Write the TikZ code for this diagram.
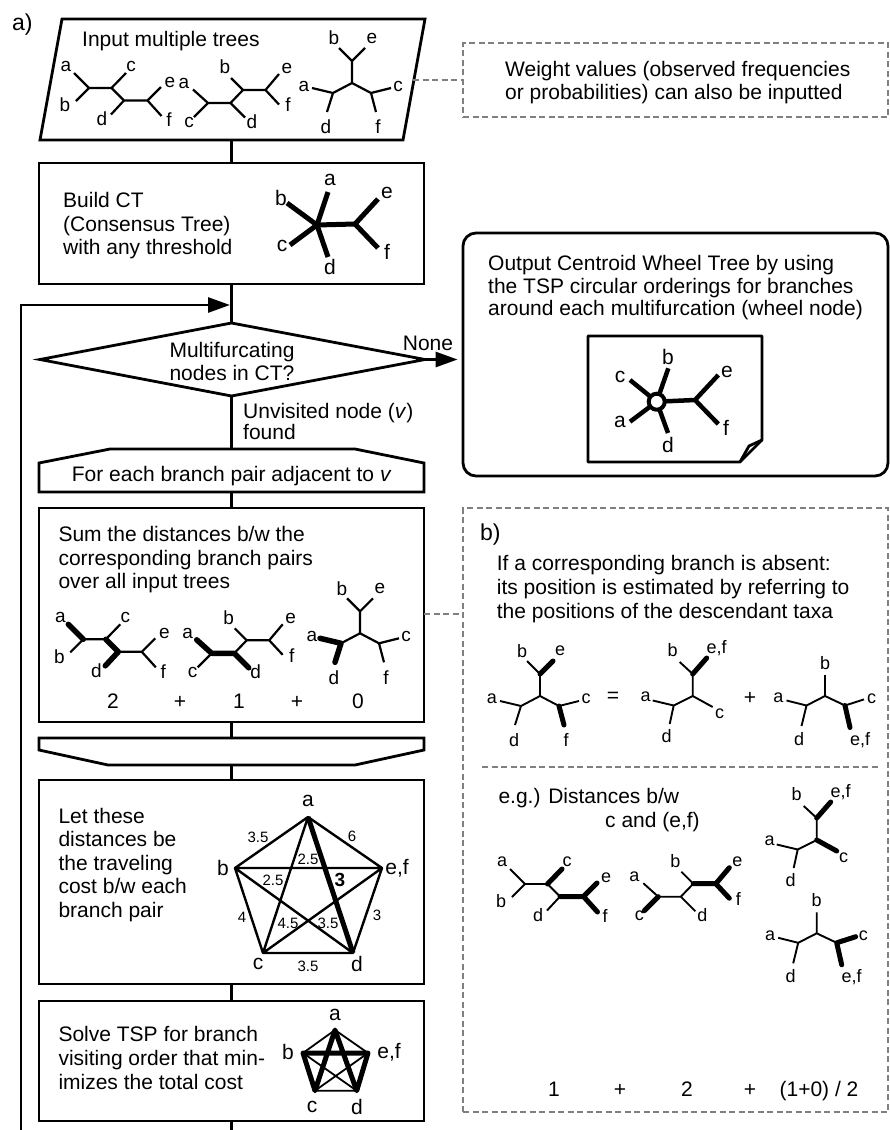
\documentclass[tikz,border=0pt]{standalone}
\usepackage{fontspec}
\setmainfont{Liberation Sans}
\usetikzlibrary{arrows.meta}
\definecolor{dgray}{RGB}{128,128,128}
\tikzset{
  flow/.style={line width=2.8pt},
  box/.style={draw, line width=2.8pt, rectangle, inner sep=0pt},
  dbox/.style={draw=dgray, line width=2pt, dash pattern=on 6pt off 3.5pt, rectangle, inner sep=0pt},
  dline/.style={draw=dgray, line width=2pt, dash pattern=on 6pt off 3.5pt},
  arr/.style={-{Triangle[length=22pt,width=15pt]}},
  txt/.style={inner sep=0pt, font=\fontsize{21}{24}\selectfont},
  bigl/.style={inner sep=0pt, font=\fontsize{23}{25}\selectfont},
  elab/.style={inner sep=0pt, font=\fontsize{15}{16}\selectfont},
  tlab/.style={inner sep=0pt, font=\fontsize{19}{20}\selectfont},
  tline/.style={line width=2.2pt},
  thk/.style={line width=5.5pt, line cap=round, line join=round},
  pics/treeA/.style={code={
    \coordinate (-n1) at (0,0); \coordinate (-a) at (-15,-15); \coordinate (-b) at (-13,13);
    \coordinate (-n2) at (22.5,0); \coordinate (-c) at (37,-15); \coordinate (-n3) at (35,12.5);
    \coordinate (-d) at (22,26.5); \coordinate (-n4) at (58.5,12.5); \coordinate (-e) at (72,-1); \coordinate (-f) at (72.5,28);
    \draw[tline] (-a) -- (-n1) -- (-b) (-n1) -- (-n2) -- (-c) (-n2) -- (-n3) -- (-d) (-n3) -- (-n4) -- (-e) (-n4) -- (-f);
    \node[tlab] (-la) at (-23,-22) {a}; \node[tlab] (-lb) at (-24,17) {b}; \node[tlab] (-lc) at (42,-22) {c};
    \node[tlab] (-ld) at (13,31) {d}; \node[tlab] (-le) at (81,-6) {e}; \node[tlab] (-lf) at (80,32) {f};
  }},
  pics/treeB/.style={code={
    \coordinate (-n1) at (0,0); \coordinate (-a) at (-15,-13.5); \coordinate (-c) at (-14,14);
    \coordinate (-n2) at (22.5,0); \coordinate (-d) at (37,14.5); \coordinate (-n3) at (35,-13);
    \coordinate (-b) at (23,-25); \coordinate (-n4) at (57.5,-13); \coordinate (-e) at (71,-29); \coordinate (-f) at (71,1.5);
    \draw[tline] (-a) -- (-n1) -- (-c) (-n1) -- (-n2) -- (-d) (-n2) -- (-n3) -- (-b) (-n3) -- (-n4) -- (-e) (-n4) -- (-f);
    \node[tlab] (-la) at (-24,-20) {a}; \node[tlab] (-lc) at (-19,19) {c}; \node[tlab] (-ld) at (44,18.5) {d};
    \node[tlab] (-lb) at (17,-36) {b}; \node[tlab] (-le) at (79,-35) {e}; \node[tlab] (-lf) at (80,2) {f};
  }},
  pics/treeC/.style={code={
    \coordinate (-o) at (0,0); \coordinate (-u) at (0,-22); \coordinate (-b) at (-13,-35); \coordinate (-e) at (13,-35);
    \coordinate (-l) at (-19,10); \coordinate (-a) at (-40,5); \coordinate (-d) at (-25,29);
    \coordinate (-r) at (19,10); \coordinate (-c) at (39,5); \coordinate (-f) at (24,29);
    \draw[tline] (-b) -- (-u) -- (-e) (-u) -- (-o) (-a) -- (-l) -- (-d) (-l) -- (-o) -- (-r) (-c) -- (-r) -- (-f);
    \node[tlab] (-lb) at (-18,-45) {b}; \node[tlab] (-le) at (20,-45) {e}; \node[tlab] (-la) at (-48,3) {a};
    \node[tlab] (-ld) at (-26,44) {d}; \node[tlab] (-lc) at (46,3) {c}; \node[tlab] (-lf) at (26,44) {f};
  }},
  pics/treeD/.style={code={
    \coordinate (-o) at (0,0); \coordinate (-u) at (0,-22); \coordinate (-b) at (-13,-34); \coordinate (-ef) at (14,-38);
    \coordinate (-l) at (-19,9.5); \coordinate (-a) at (-40,4.5); \coordinate (-d) at (-23,28); \coordinate (-c) at (20,11);
    \draw[tline] (-b) -- (-u) -- (-ef) (-u) -- (-o) (-a) -- (-l) -- (-d) (-l) -- (-o) -- (-c);
    \node[tlab] (-lb) at (-20,-46) {b}; \node[tlab] (-lef) at (24,-48) {e,f}; \node[tlab] (-la) at (-47,1) {a};
    \node[tlab] (-ld) at (-26,40) {d}; \node[tlab] (-lc) at (27,18) {c};
  }},
  pics/treeE/.style={code={
    \coordinate (-o) at (0,0); \coordinate (-b) at (0,-21);
    \coordinate (-l) at (-18.5,9.5); \coordinate (-a) at (-38.5,4.5); \coordinate (-d) at (-23.5,30);
    \coordinate (-r) at (20,9.5); \coordinate (-c) at (39,3.4); \coordinate (-ef) at (25,31.5);
    \draw[tline] (-b) -- (-o) (-a) -- (-l) -- (-d) (-l) -- (-o) -- (-r) (-c) -- (-r) -- (-ef);
    \node[tlab] (-lb) at (0,-33) {b}; \node[tlab] (-la) at (-46.7,2) {a}; \node[tlab] (-ld) at (-26,43) {d};
    \node[tlab] (-lc) at (46.7,2.5) {c}; \node[tlab] (-lef) at (35,44) {e,f};
  }},
}
\begin{document}
\begin{tikzpicture}[x=1pt,y=-1pt]
\useasboundingbox (0,0) rectangle (890,1130);

% ---------- left flowchart shapes ----------
\coordinate (pTL) at (62,19); \coordinate (pTR) at (425,19);
\coordinate (pBR) at (403,140); \coordinate (pBL) at (40,140);
\coordinate (pB) at (231.5,140); \coordinate (pR) at (413,80);
\draw[flow] (pTL) -- (pTR) -- (pBR) -- (pBL) -- cycle;

\node[box, minimum width=385, minimum height=121] (ct) at (231.5,223.5) {};

\coordinate (dT) at (231.5,323); \coordinate (dR) at (425,359.5);
\coordinate (dB) at (231.5,396); \coordinate (dL) at (40,359.5);
\draw[flow] (dT) -- (dR) -- (dB) -- (dL) -- cycle;

\coordinate (fT) at (231.5,449); \coordinate (fB) at (231.5,492);
\draw[flow] (110,449) -- (355,449) -- (424,463) -- (424,492) -- (39,492) -- (39,463) -- cycle;

\node[box, minimum width=385, minimum height=214] (sum) at (231.5,615) {};

\coordinate (lT) at (231.5,738); \coordinate (lB) at (231.5,765);
\draw[flow] (39,738) -- (424,738) -- (424,750) -- (355,765) -- (108,765) -- (39,750) -- cycle;

\node[box, minimum width=385, minimum height=204] (cost) at (231.5,882) {};
\node[box, minimum width=385, minimum height=120] (tsp) at (231.5,1061) {};

% ---------- right boxes ----------
\node[dbox, minimum width=425, minimum height=74] (wt) at (675.5,80) {};
\node[box, rounded corners=13pt, minimum width=425, minimum height=243] (out) at (675.5,354.5) {};
\node[dbox, minimum width=425, minimum height=604] (bb) at (675.5,810) {};

% ---------- connectors ----------
\draw[flow] (pB) -- (ct.north);
\draw[flow] (ct.south) -- (dT);
\draw[flow] (dB) -- (fT);
\draw[flow] (fB) -- (sum.north);
\draw[flow] (sum.south) -- (lT);
\draw[flow] (lB) -- (cost.north);
\draw[flow] (cost.south) -- (tsp.north);
\coordinate (bot) at (231.5,1131);
\draw[flow] (tsp.south) -- (bot);
\coordinate (lp0) at (21,1131); \coordinate (lp1) at (21,305); \coordinate (lp2) at (230,305);
\draw[flow, arr] (lp0) -- (lp1) -- (lp2);
\draw[flow, arr, shorten >=4pt] (dR) -- (dR -| out.west);
\draw[dline] (pR) -- (wt.west);
\coordinate (sm) at (424,614);
\draw[dline] (sm) -- (sm -| bb.west);

% ---------- texts ----------
\node[bigl, anchor=base west] (tA) at (12,30) {a)};
\node[txt, anchor=base west] (tIn) at (82,46.5) {Input multiple trees};
\node[txt, anchor=base west] (tCt1) at (63,207.3) {Build CT};
\node[txt, anchor=base west] (tCt2) at (63,231.3) {(Consensus Tree)};
\node[txt, anchor=base west] (tCt3) at (63,254.8) {with any threshold};
\node[txt, anchor=base] (tD1) at (232,357) {Multifurcating};
\node[txt, anchor=base] (tD2) at (232,380) {nodes in CT?};
\node[txt, anchor=base] (tNone) at (428,350) {None};
\node[txt, anchor=base west] (tU1) at (243,418.3) {Unvisited node (\textit{v})};
\node[txt, anchor=base west] (tU2) at (243,439.3) {found};
\node[txt, anchor=base] (tFe) at (231.7,481.7) {For each branch pair adjacent to \textit{v}};
\node[txt, anchor=base west] (tS1) at (58.3,541.7) {Sum the distances b/w the};
\node[txt, anchor=base west] (tS2) at (58.3,565.3) {corresponding branch pairs};
\node[txt, anchor=base west] (tS3) at (58.3,588.3) {over all input trees};
\node[txt, anchor=base] (n2) at (113,708.3) {2};
\node[txt, anchor=base] (np1) at (180,708.3) {+};
\node[txt, anchor=base] (n1) at (239,708.3) {1};
\node[txt, anchor=base] (np2) at (297,708.3) {+};
\node[txt, anchor=base] (n0) at (358,708.3) {0};
\node[txt, anchor=base west] (tL1) at (58.3,823.3) {Let these};
\node[txt, anchor=base west] (tL2) at (58.3,846.8) {distances be};
\node[txt, anchor=base west] (tL3) at (58.3,870.3) {the traveling};
\node[txt, anchor=base west] (tL4) at (58.3,893.8) {cost b/w each};
\node[txt, anchor=base west] (tL5) at (58.3,917.3) {branch pair};
\node[txt, anchor=base west] (tT1) at (58.3,1041.7) {Solve TSP for branch};
\node[txt, anchor=base west] (tT2) at (58.3,1065.5) {visiting order that min-};
\node[txt, anchor=base west] (tT3) at (58.3,1089) {imizes the total cost};
\node[txt, anchor=base west] (tW1) at (505,76) {Weight values (observed frequencies};
\node[txt, anchor=base west] (tW2) at (505,99.5) {or probabilities) can also be inputted};
\node[txt, anchor=base west] (tO1) at (488,270) {Output Centroid Wheel Tree by using};
\node[txt, anchor=base west] (tO2) at (488,293) {the TSP circular orderings for branches};
\node[txt, anchor=base west] (tO3) at (488,315.5) {around each multifurcation (wheel node)};
\node[bigl, anchor=base west] (tB) at (480,540) {b)};
\node[txt, anchor=base west] (tB1) at (496.7,570.7) {If a corresponding branch is absent:};
\node[txt, anchor=base west] (tB2) at (496.7,594.3) {its position is estimated by referring to};
\node[txt, anchor=base west] (tB3) at (496.7,618) {the positions of the descendant taxa};
\node[txt, anchor=base west] (tE1) at (498.3,803.3) {e.g.) Distances b/w};
\node[txt, anchor=base west] (tE2) at (605,827) {c and (e,f)};
\node[txt] (teq) at (613,697) {=};
\node[txt] (tpl) at (750,698) {+};
\node[txt, anchor=base] (m1) at (554,1096.7) {1};
\node[txt, anchor=base] (mp1) at (620,1096.7) {+};
\node[txt, anchor=base] (m2) at (687,1096.7) {2};
\node[txt, anchor=base] (mp2) at (750,1096.7) {+};
\node[txt, anchor=base] (m3) at (819,1096.7) {(1+0) / 2};

% ---------- input trees ----------
\pic (I1) at (89,88) {treeA};
\pic (I2) at (208,103) {treeB};
\pic (I3) at (352,83) {treeC};

% ---------- consensus tree ----------
\begin{scope}[line width=5pt]
\coordinate (cO) at (317,225); \coordinate (cR) at (355,224);
\draw (287,203) -- (cO) -- (290,245);
\draw (328,192) -- (cO) -- (328,257);
\draw (cO) -- (cR);
\draw (378,199) -- (cR) -- (378,248);
\end{scope}
\node[txt] (ca) at (330,180) {a}; \node[txt] (cb) at (281,198) {b};
\node[txt] (cc) at (282,246) {c}; \node[txt] (cd) at (330,267) {d};
\node[txt] (ce) at (387,193) {e}; \node[txt] (cf) at (387,252) {f};

% ---------- sum trees ----------
\pic (S1) at (83.3,639.3) {treeA};
\pic (S2) at (211.7,653.3) {treeB};
\pic (S3) at (360,633.3) {treeC};
\draw[thk] (S1-a) -- (S1-n1) (S1-n2) -- (S1-n3) -- (S1-d);
\draw[thk] (S2-a) -- (S2-n1) -- (S2-n2) -- (S2-d);
\draw[thk] (S3-a) -- (S3-l) -- (S3-d);

% ---------- big pentagon ----------
\coordinate (pa) at (308,817); \coordinate (pb) at (235,868); \coordinate (pe) at (382,868);
\coordinate (pc) at (263,953); \coordinate (pd) at (353,953);
\draw[line width=2.4pt, line join=round] (pa) -- (pb) -- (pc) -- (pd) -- (pe) -- cycle
  (pa) -- (pc) (pb) -- (pe) (pb) -- (pd) (pe) -- (pc);
\draw[line width=5pt] (pa) -- (pd);
\node[txt] (pla) at (308,801) {a}; \node[txt] (plb) at (223,868) {b}; \node[txt] (ple) at (397,868) {e,f};
\node[txt] (plc) at (258,964) {c}; \node[txt] (pld) at (357,964) {d};
\node[elab] (e1) at (258,837) {3.5}; \node[elab] (e2) at (352,836) {6};
\node[elab] (e3) at (308,859) {2.5}; \node[elab] (e4) at (273,880) {2.5};
\node[inner sep=0pt, font=\fontsize{19}{20}\selectfont\bfseries] (e5) at (340,880) {3};
\node[elab] (e6) at (242,917) {4}; \node[elab] (e7) at (288,923) {4.5};
\node[elab] (e8) at (328,923) {3.5}; \node[elab] (e9) at (377,915) {3};
\node[elab] (e10) at (308,966) {3.5};

% ---------- small pentagon ----------
\coordinate (qa) at (335,1030); \coordinate (qb) at (303,1053); \coordinate (qe) at (368,1053);
\coordinate (qc) at (315,1090.7); \coordinate (qd) at (356.7,1090.7);
\draw[line width=1.8pt] (qa) -- (qb) (qa) -- (qe) (qb) -- (qd) (qe) -- (qc) (qc) -- (qd);
\draw[line width=5pt, line join=round] (qa) -- (qc) -- (qb) -- (qe) -- (qd) -- cycle;
\node[txt] (qla) at (335,1015) {a}; \node[txt] (qlb) at (288,1052) {b}; \node[txt] (qle) at (389,1052) {e,f};
\node[txt] (qlc) at (312,1106.7) {c}; \node[txt] (qld) at (357,1106.7) {d};

% ---------- output document with wheel tree ----------
\draw[flow, line join=round] (588,336) -- (762,336) -- (762,440) -- (740,462) -- (588,462) -- cycle;
\draw[flow, line join=round] (762,440) -- (749,446) -- (740,462);
\coordinate (wO) at (656.7,401.7); \coordinate (wR) at (695,400);
\draw[line width=4.5pt] (630,380) -- (wO) -- (630,421.7)
  (668.3,368.3) -- (wO) -- (668,433) (wO) -- (wR) (718.3,375) -- (wR) -- (718.3,424);
\draw[line width=4pt, fill=white] (wO) circle (8);
\node[txt] (wc) at (620,377) {c}; \node[txt] (wb) at (668,357) {b}; \node[txt] (we) at (727,372) {e};
\node[txt] (wa) at (620,422) {a}; \node[txt] (wd) at (668,445) {d}; \node[txt] (wf) at (726,428) {f};

% ---------- b) trees ----------
\begin{scope}[tline/.style={line width=1.9pt}, tlab/.style={inner sep=0pt, font=\fontsize{18}{19}\selectfont}]
\pic (B1) at (540,696) {treeC};
\pic (B2) at (692.7,696) {treeD};
\pic (B3) at (825,696) {treeE};
\pic (B4) at (525,884) {treeA};
\pic (B5) at (658.3,896.7) {treeB};
\pic (B6) at (816.7,840) {treeD};
\pic (B7) at (816.7,933.3) {treeE};
\end{scope}
\draw[thk, line width=5pt] (B1-u) -- (B1-e) (B1-r) -- (B1-f);
\draw[thk, line width=5pt] (B2-u) -- (B2-ef);
\draw[thk, line width=5pt] (B3-r) -- (B3-ef);
\draw[thk, line width=5pt] (B4-n2) -- (B4-c) (B4-n3) -- (B4-n4) (B4-e) -- (B4-n4) -- (B4-f);
\draw[thk, line width=5pt] (B5-n1) -- (B5-c) (B5-n3) -- (B5-n4) (B5-e) -- (B5-n4) -- (B5-f);
\draw[thk, line width=5pt] (B6-u) -- (B6-ef) (B6-o) -- (B6-c);
\draw[thk, line width=5pt] (B7-c) -- (B7-r) -- (B7-ef);
\coordinate (sep1) at (482,767); \coordinate (sep2) at (880,767);
\draw[dline] (sep1) -- (sep2);
\end{tikzpicture}
\end{document}
